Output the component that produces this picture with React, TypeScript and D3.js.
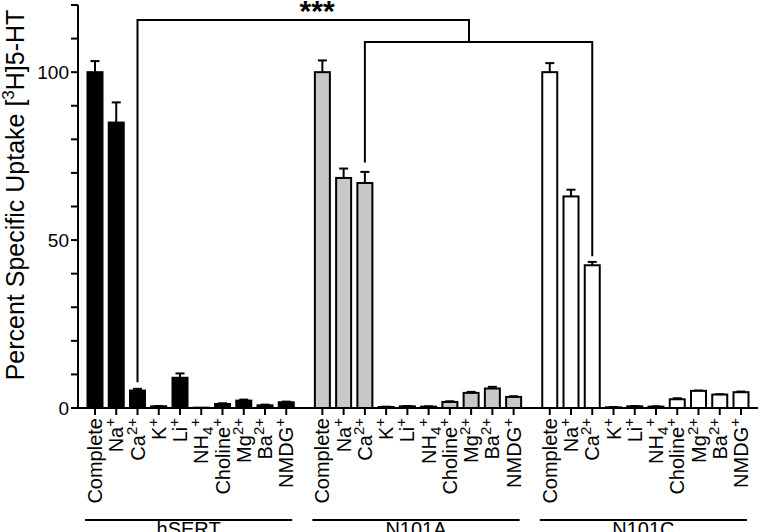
import React from 'react';
import * as d3 from 'd3';

// conditions (label base, subscript, superscript)
const condBase = ['Complete', 'Na', 'Ca', 'K', 'Li', 'NH', 'Choline', 'Mg', 'Ba', 'NMDG'];
const condSub = ['', '', '', '', '', '4', '', '', '', ''];
const condSup = ['', '+', '2+', '+', '+', '+', '+', '2+', '2+', '+'];

const groups = ['hSERT', 'N101A', 'N101C'];
const groupFill = ['#000000', '#c8c8c8', '#ffffff'];

const hsertMean = [100, 85, 5.2, 0.5, 9, 0.1, 1.2, 2.2, 0.8, 1.7];
const hsertErr = [3.3, 6, 0.5, 0.1, 1.3, 0, 0.2, 0.3, 0.2, 0.2];
const n101aMean = [100, 68.5, 67, 0.3, 0.5, 0.4, 1.8, 4.5, 5.8, 3.3];
const n101aErr = [3.5, 2.8, 3.3, 0.1, 0.1, 0.1, 0.2, 0.3, 0.5, 0.2];
const n101cMean = [100, 63, 42.5, 0.2, 0.5, 0.4, 2.6, 5.1, 4, 4.7];
const n101cErr = [2.7, 2, 1, 0.1, 0.1, 0.1, 0.3, 0.1, 0.1, 0.2];

const means = [hsertMean, n101aMean, n101cMean];
const errs = [hsertErr, n101aErr, n101cErr];

// significance brackets (values in data units)
const bracketTop = 115.5;
const bracketInner = 109;
const legEnds = [7.7, 73.1, 45.2]; // hSERT Ca, N101A Ca, N101C Ca
const joinPos = 17.6; // where outer bracket meets inner bracket
const starPos = 10.45;

const yTicks = d3.range(0, 121, 10);
const yLabels = [0, 50, 100];

const groupStride = 10.7;
const pos = (g: number, i: number) => g * groupStride + i;

export default function App() {
  const W = 760;
  const H = 532;
  const x = d3.scaleLinear().domain([0, pos(2, 9)]).range([95, 741]);
  const y = d3.scaleLinear().domain([0, 120]).range([408, 5]);
  const axisX = 78;
  const barW = 15;
  const font = 'Arial, "Liberation Sans", Helvetica, sans-serif';
  const caIdx = 2;

  const xa = x(pos(0, caIdx));
  const xb = x(pos(1, caIdx));
  const xc = x(pos(2, caIdx));
  const xj = x(joinPos);

  return (
    <svg width={W} height={H} style={{ position: 'absolute', left: 0, top: 0, background: '#fff' }} fontFamily={font}>
      {/* bars */}
      {groups.map((gName, g) => (
        <g key={gName}>
          {means[g].map((v, i) => {
            const cx = x(pos(g, i));
            const e = errs[g][i];
            return (
              <g key={i}>
                {e > 0 && (
                  <g stroke="#000" strokeWidth={2}>
                    <line x1={cx} x2={cx} y1={y(v)} y2={y(v + e)} />
                    <line x1={cx - 4.5} x2={cx + 4.5} y1={y(v + e)} y2={y(v + e)} />
                  </g>
                )}
                <rect x={cx - barW / 2} y={y(v)} width={barW} height={Math.max(0, y(0) - y(v))}
                  fill={groupFill[g]} stroke="#000" strokeWidth={2} />
              </g>
            );
          })}
        </g>
      ))}

      {/* y axis */}
      <line x1={axisX} x2={axisX} y1={y(120)} y2={y(0) + 1} stroke="#000" strokeWidth={2} />
      {yTicks.map(t => (
        <line key={t} x1={axisX - 7} x2={axisX} y1={y(t)} y2={y(t)} stroke="#000" strokeWidth={2} />
      ))}
      {yLabels.map(t => (
        <text key={t} x={axisX - 9} y={y(t)} dy="0.35em" textAnchor="end" fontSize={19}>{t}</text>
      ))}
      <text transform={`translate(24, 195) rotate(-90)`} textAnchor="middle" fontSize={25}>
        Percent Specific Uptake [<tspan dy={-10} fontSize={17}>3</tspan><tspan dy={10}>H]5-HT</tspan>
      </text>

      {/* x axis */}
      <line x1={axisX - 1} x2={758} y1={y(0)} y2={y(0)} stroke="#000" strokeWidth={2} />
      {groups.map((gName, g) => (
        <g key={gName}>
          {condBase.map((c, i) => {
            const cx = x(pos(g, i));
            return (
              <g key={i}>
                <line x1={cx} x2={cx} y1={y(0)} y2={y(0) + 7} stroke="#000" strokeWidth={2} />
                <text transform={`translate(${cx}, 418) rotate(-90)`} dy="0.35em" textAnchor="end" fontSize={20}>
                  {c}
                  {condSub[i] && <tspan dy={5} fontSize={15}>{condSub[i]}</tspan>}
                  {condSup[i] && <tspan dy={condSub[i] ? -13 : -8} fontSize={15}>{condSup[i]}</tspan>}
                </text>
              </g>
            );
          })}
          <line x1={x(pos(g, 0)) - 10} x2={x(pos(g, 9)) + 6} y1={520} y2={520} stroke="#000" strokeWidth={2} />
          <text x={(x(pos(g, 0)) + x(pos(g, 9))) / 2 - 2} y={536} textAnchor="middle" fontSize={20}>{gName}</text>
        </g>
      ))}

      {/* significance brackets */}
      <path d={`M${xa},${y(legEnds[0])}V${y(bracketTop)}H${xj}V${y(bracketInner)}`} fill="none" stroke="#000" strokeWidth={2} />
      <path d={`M${xb},${y(legEnds[1])}V${y(bracketInner)}H${xc}V${y(legEnds[2])}`} fill="none" stroke="#000" strokeWidth={2} />
      <text x={x(starPos)} y={21} textAnchor="middle" fontSize={30} fontWeight="bold">***</text>
    </svg>
  );
}
